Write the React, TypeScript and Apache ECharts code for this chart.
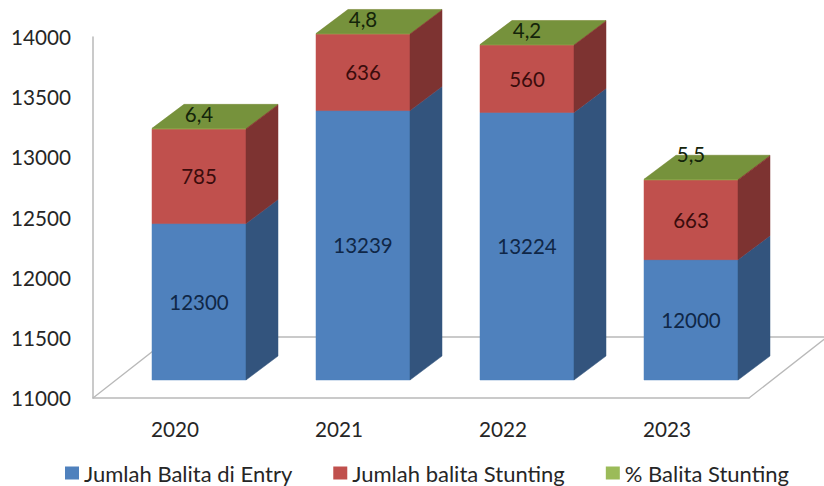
import React, { useEffect, useRef } from "react";
import * as echarts from "echarts";

const years = ["2020", "2021", "2022", "2023"];
const entry = [12300, 13239, 13224, 12000];
const stunting = [785, 636, 560, 663];
const percent = [6.4, 4.8, 4.2, 5.5];
const percentLabels = ["6,4", "4,8", "4,2", "5,5"];
const yTicks = { min: 11000, max: 14000, step: 500 };

const FONT = "Lato";
const TEXT = "#262626";
const AXIS = "#b9b9b9";
const BAR_FRACTION = 94 / 164;
const BAR_SHIFT = -23;
const DEPTH_X = 32;
const DEPTH_Y = 24;
const LIFT = 18;

function prism(api: any, front: string, side: string, top: string, label: string, labelFill: string, labelLift: number | null) {
  const i = api.value(0);
  const lo = api.value(1);
  const hi = api.value(2);
  const band = api.size([1, 0])[0];
  const w = band * BAR_FRACTION;
  const c = api.coord([i, lo]);
  const d = api.coord([i, hi]);
  const x0 = c[0] + BAR_SHIFT;
  const x1 = x0 + w;
  const y0 = c[1] - LIFT;
  const y1 = d[1] - LIFT;
  const poly = (pts: number[][], fill: string) => ({
    type: "polygon",
    shape: { points: pts },
    style: { fill, stroke: fill, lineWidth: 0.5 },
  });
  const labelY = labelLift === null ? (y0 + y1) / 2 : y1 - labelLift;
  return {
    type: "group",
    children: [
      poly([[x0, y0], [x1, y0], [x1, y1], [x0, y1]], front),
      poly([[x1, y0], [x1 + DEPTH_X, y0 - DEPTH_Y], [x1 + DEPTH_X, y1 - DEPTH_Y], [x1, y1]], side),
      poly([[x0, y1], [x1, y1], [x1 + DEPTH_X, y1 - DEPTH_Y], [x0 + DEPTH_X, y1 - DEPTH_Y]], top),
      {
        type: "text",
        z2: 10,
        style: {
          x: (x0 + x1) / 2,
          y: labelY,
          text: label,
          fill: labelFill,
          fontFamily: FONT,
          fontSize: 20.5,
          align: "center",
          verticalAlign: "middle",
        },
      },
    ],
  };
}

export default function App() {
  const ref = useRef<HTMLDivElement>(null);
  useEffect(() => {
    document.body.style.margin = "0";
    const chart = echarts.init(ref.current!, null, { renderer: "svg" });
    const totals = entry.map((v, i) => v + stunting[i]);
    chart.setOption({
      animation: false,
      backgroundColor: "#ffffff",
      grid: { left: 93, right: 75, top: 37, bottom: 88 },
      legend: {
        left: 60,
        top: 457,
        icon: "rect",
        itemWidth: 14,
        itemHeight: 13,
        itemGap: 41,
        data: ["Jumlah Balita di Entry", "Jumlah balita Stunting", "% Balita Stunting"],
        textStyle: { fontFamily: FONT, fontSize: 22, color: TEXT, padding: [0, 0, 0, 0] },
      },
      xAxis: {
        type: "category",
        data: years,
        axisLine: { show: true, lineStyle: { color: AXIS, width: 1.5 } },
        axisTick: { show: false },
        axisLabel: { fontFamily: FONT, fontSize: 20.7, color: TEXT, margin: 20 },
      },
      yAxis: {
        type: "value",
        min: yTicks.min,
        max: yTicks.max,
        interval: yTicks.step,
        axisLine: { show: true, lineStyle: { color: AXIS, width: 1.5 } },
        axisTick: { show: false },
        splitLine: { show: false },
        axisLabel: { fontFamily: FONT, fontSize: 20.7, color: TEXT, margin: 22, formatter: (v: number) => String(v) },
      },
      series: [
        {
          name: "floor",
          type: "custom",
          silent: true,
          clip: false,
          z: 1,
          data: [[0, yTicks.min]],
          renderItem: (params: any) => {
            const s = params.coordSys;
            const bottom = s.y + s.height;
            const right = s.x + s.width;
            const line = { stroke: AXIS, lineWidth: 1.3, fill: "none" };
            return {
              type: "polyline",
              shape: { points: [[s.x, bottom], [s.x + 78, bottom - 61], [right + 78, bottom - 61], [right, bottom]] },
              style: line,
            };
          },
        },
        {
          name: "Jumlah Balita di Entry",
          type: "custom",
          clip: false,
          z: 2,
          itemStyle: { color: "#4f81bd" },
          encode: { x: 0, y: 2 },
          data: entry.map((v, i) => [i, yTicks.min, v]),
          renderItem: (p: any, api: any) =>
            prism(api, "#4f81bd", "#33547d", "#4f81bd", String(entry[p.dataIndex]), "#0f2747", null),
        },
        {
          name: "Jumlah balita Stunting",
          type: "custom",
          clip: false,
          z: 3,
          itemStyle: { color: "#c0504d" },
          encode: { x: 0, y: 2 },
          data: stunting.map((v, i) => [i, entry[i], totals[i]]),
          renderItem: (p: any, api: any) =>
            prism(api, "#c0504d", "#7d3331", "#c0504d", String(stunting[p.dataIndex]), "#3a0c0c", null),
        },
        {
          name: "% Balita Stunting",
          type: "custom",
          clip: false,
          z: 4,
          itemStyle: { color: "#9bbb59" },
          encode: { x: 0, y: 2 },
          data: percent.map((v, i) => [i, totals[i], totals[i] + v]),
          renderItem: (p: any, api: any) =>
            prism(api, "#9bbb59", "#7d3331", "#76923c", percentLabels[p.dataIndex], "#14240a", p.dataIndex === 3 ? 25 : 14),
        },
      ],
    });
    return () => chart.dispose();
  }, []);
  return <div ref={ref} style={{ position: "absolute", left: 0, top: 0, width: 824, height: 486 }} />;
}
